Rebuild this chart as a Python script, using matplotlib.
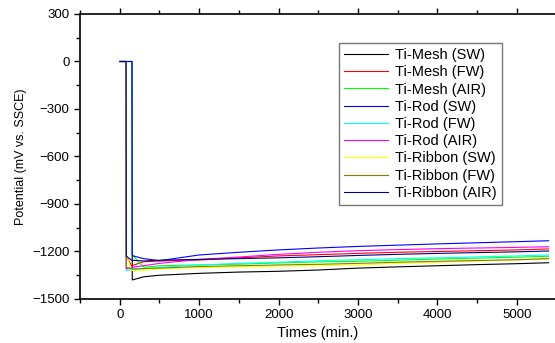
import matplotlib
matplotlib.use("Agg")
import matplotlib.pyplot as plt
from matplotlib.ticker import MultipleLocator

plt.rcParams['font.family'] = ['Liberation Sans', 'DejaVu Sans']

# ----------------------------
# Data (time in min, potential in mV)
# ----------------------------
labels = ['Ti-Mesh (SW)', 'Ti-Mesh (FW)', 'Ti-Mesh (AIR)',
          'Ti-Rod (SW)', 'Ti-Rod (FW)', 'Ti-Rod (AIR)',
          'Ti-Ribbon (SW)', 'Ti-Ribbon (FW)', 'Ti-Ribbon (AIR)']
colors = ['#000000', '#ff0000', '#00ff00',
          '#0000ff', '#00ffff', '#ff00ff',
          '#ffff00', '#808000', '#000080']

t_late = [0, 155, 158, 300, 500, 1000, 1500, 2000, 2500, 3000, 3500, 4000, 4500, 5000, 5400]
t_early = [0, 80, 83, 150, 300, 500, 1000, 1500, 2000, 2500, 3000, 3500, 4000, 4500, 5000, 5400]

mesh_sw = [0, 0, -1380, -1360, -1350, -1338, -1330, -1325, -1317, -1305, -1297, -1290, -1283, -1277, -1271]
mesh_fw = [0, 0, -1230, -1290, -1265, -1260, -1254, -1240, -1228, -1220, -1212, -1205, -1200, -1195, -1190, -1184]
mesh_air = [0, 0, -1220, -1300, -1290, -1285, -1280, -1272, -1266, -1262, -1255, -1248, -1242, -1236, -1230]
rod_sw = [0, 0, -1226, -1245, -1258, -1222, -1205, -1190, -1178, -1168, -1160, -1152, -1145, -1138, -1132]
rod_fw = [0, 0, -1320, -1315, -1310, -1300, -1285, -1275, -1268, -1258, -1252, -1245, -1240, -1234, -1228, -1222]
rod_air = [0, 0, -1310, -1300, -1290, -1275, -1250, -1235, -1218, -1205, -1195, -1188, -1182, -1178, -1174, -1170]
rib_sw = [0, 0, -1215, -1320, -1318, -1310, -1302, -1298, -1292, -1290, -1285, -1275, -1268, -1260, -1253, -1247]
rib_fw = [0, 0, -1300, -1310, -1308, -1305, -1295, -1290, -1285, -1281, -1275, -1268, -1262, -1257, -1252, -1245]
rib_air = [0, 0, -1230, -1255, -1260, -1255, -1250, -1245, -1240, -1233, -1225, -1218, -1212, -1207, -1202, -1197]

series = [(t_late, mesh_sw), (t_early, mesh_fw), (t_late, mesh_air),
          (t_late, rod_sw), (t_early, rod_fw), (t_early, rod_air),
          (t_early, rib_sw), (t_early, rib_fw), (t_early, rib_air)]

# ----------------------------
# Plot
# ----------------------------
fig = plt.figure(figsize=(5.55, 3.43), dpi=100)
ax = fig.add_axes([0.1441, 0.1283, 0.8559, 0.8309])

for (t, v), lab, c in zip(series, labels, colors):
    ax.plot(t, v, color=c, linewidth=0.8, label=lab)

ax.set_xlim(-500, 5480)
ax.set_ylim(-1500, 300)
ax.xaxis.set_major_locator(MultipleLocator(1000))
ax.xaxis.set_minor_locator(MultipleLocator(500))
ax.yaxis.set_major_locator(MultipleLocator(300))
ax.yaxis.set_minor_locator(MultipleLocator(150))
ax.tick_params(which='both', direction='out', top=True, labelsize=9.5, width=1)
ax.tick_params(which='major', length=4)
ax.tick_params(which='minor', length=3)
ax.spines['right'].set_visible(False)
for s in ['left', 'top', 'bottom']:
    ax.spines[s].set_linewidth(1.2)

ax.set_xlabel('Times (min.)', fontsize=10.5, labelpad=3)
ax.set_ylabel('Potential (mV vs. SSCE)', fontsize=9, labelpad=4)

leg = ax.legend(loc='upper left', bbox_to_anchor=(0.546, 0.898), fontsize=10.5,
                frameon=True, fancybox=False, handlelength=3.0, handletextpad=0.5,
                labelspacing=0.22, borderpad=0.35, borderaxespad=0)
leg.get_frame().set_edgecolor('#555555')
leg.get_frame().set_linewidth(1.0)

fig.savefig('out.png', dpi=100)
